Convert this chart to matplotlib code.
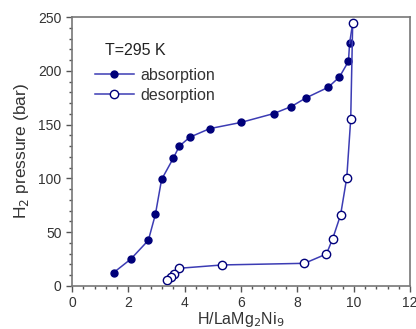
import matplotlib
matplotlib.use("agg")
import matplotlib.pyplot as plt
from matplotlib.ticker import MultipleLocator

plt.rcParams['font.family'] = ['Liberation Sans', 'DejaVu Sans']

# absorption branch
abs_x = [1.48, 2.09, 2.71, 2.96, 3.18, 3.59, 3.81, 4.18, 4.89, 5.99, 7.16, 7.78, 8.30, 9.09, 9.49, 9.81, 9.85, 9.96]
abs_p = [12.4, 25.0, 42.4, 66.5, 99.0, 118.5, 130.0, 138.3, 146.3, 152.0, 160.3, 166.8, 174.8, 184.7, 194.3, 208.8, 225.6, 244.4]

# desorption branch
des_x = [9.96, 9.89, 9.75, 9.53, 9.25, 9.03, 8.25, 5.34, 3.81, 3.61, 3.50, 3.37]
des_p = [244.4, 155.0, 100.6, 65.9, 43.9, 29.7, 21.0, 19.5, 16.4, 11.4, 8.7, 5.6]

line_col = '#3c3cb4'
mark_col = '#00007a'
spine_col = '#555555'

fig = plt.figure(figsize=(4.16, 3.29), dpi=100)
ax = fig.add_axes([0.173, 0.131, 0.813, 0.817])

ax.plot(abs_x[:-1], abs_p[:-1], '-o', color=line_col, lw=1.1, ms=5,
        mfc=mark_col, mec=mark_col, label='absorption')
ax.plot(abs_x[-2:], abs_p[-2:], '-', color=line_col, lw=1.1)
ax.plot(des_x, des_p, '-o', color=line_col, lw=1.1, ms=6,
        mfc='white', mec=mark_col, mew=1.0, label='desorption')

ax.set_xlim(0, 12)
ax.set_ylim(0, 250)
ax.xaxis.set_major_locator(MultipleLocator(2))
ax.xaxis.set_minor_locator(MultipleLocator(0.4))
ax.yaxis.set_major_locator(MultipleLocator(50))
ax.yaxis.set_minor_locator(MultipleLocator(10))
ax.tick_params(which='both', direction='out', colors=spine_col, labelcolor='#333333',
               labelsize=10, width=1)
ax.tick_params(which='major', length=4)
ax.tick_params(which='minor', length=2.5)
for s in ax.spines.values():
    s.set_color('#777777')
    s.set_linewidth(1.2)

ax.set_xlabel(r'H/LaMg$_2$Ni$_9$', fontsize=11.5, color='#333333', labelpad=0)
ax.set_ylabel(r'H$_2$ pressure (bar)', fontsize=12.5, color='#333333', labelpad=5)

ax.text(0.098, 0.86, 'T=295 K', transform=ax.transAxes, fontsize=11.5, color='#222222')
ax.legend(loc='upper left', bbox_to_anchor=(0.05, 0.835), frameon=False, fontsize=11.5,
          handlelength=2.4, handletextpad=0.4, labelspacing=0.3, borderaxespad=0,
          labelcolor='#333333')

plt.savefig('out.png', dpi=100)
